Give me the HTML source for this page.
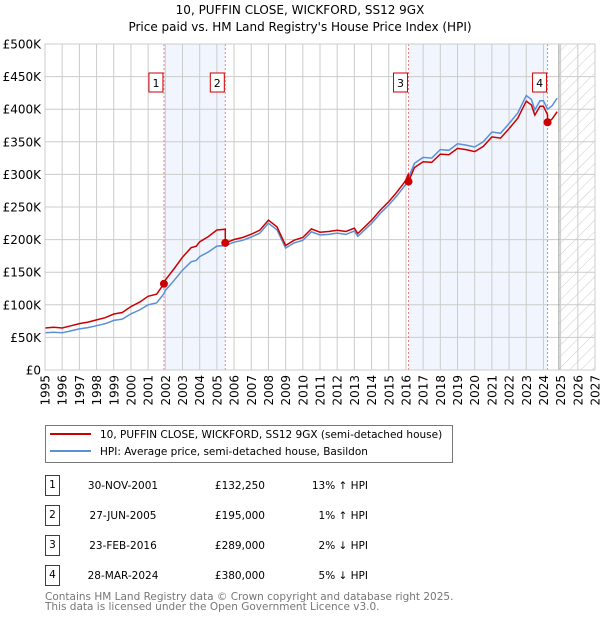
<!DOCTYPE html>
<html><head><meta charset="utf-8"><style>
body{margin:0;background:#fff;font-family:"DejaVu Sans","Liberation Sans",sans-serif;}
svg{display:block}
</style></head><body>
<svg width="600" height="620" xmlns="http://www.w3.org/2000/svg" font-family="DejaVu Sans, Liberation Sans, sans-serif">
<g id="g"></g>
</svg>
<script>
const hpiYears=[1995,1995.5,1996,1996.5,1997,1997.5,1998,1998.5,1999,1999.5,2000,2000.5,2001,2001.5,2001.92,2002,2002.5,2003,2003.5,2003.8,2004,2004.5,2005,2005.49,2006,2006.5,2007,2007.5,2008,2008.5,2009,2009.5,2010,2010.5,2011,2011.5,2012,2012.5,2013,2013.2,2013.6,2014,2014.5,2015,2015.5,2016,2016.15,2016.5,2017,2017.5,2018,2018.5,2019,2019.5,2020,2020.5,2021,2021.5,2022,2022.5,2023,2023.3,2023.5,2023.8,2024,2024.24,2024.5,2024.8];
const hpiValues=[57,58,57,60,63,65,68,71,76,78,86,92,100,103,117,122,137,153,166,168,174,181,190,191,196,199,204,210,225,215,187,195,199,212,207,208,210,208,213,205,215,225,240,253,268,285,295,317,326,325,338,337,347,345,342,350,365,363,378,394,421,415,399,413,413,400,405,417];
const saleDates=[2001.92,2005.49,2016.15,2024.24];
const salePrices=[132250,195000,289000,380000];
const saleLabels=["1","2","3","4"];
const yTicks=[0,50,100,150,200,250,300,350,400,450,500];
const yTickLabels=["£0","£50K","£100K","£150K","£200K","£250K","£300K","£350K","£400K","£450K","£500K"];
const xTicks=[1995,1996,1997,1998,1999,2000,2001,2002,2003,2004,2005,2006,2007,2008,2009,2010,2011,2012,2013,2014,2015,2016,2017,2018,2019,2020,2021,2022,2023,2024,2025,2026,2027];
const tableDates=["30-NOV-2001","27-JUN-2005","23-FEB-2016","28-MAR-2024"];
const tablePrices=["£132,250","£195,000","£289,000","£380,000"];
const tableDiffs=["13% ↑ HPI","1% ↑ HPI","2% ↓ HPI","5% ↓ HPI"];

const NS="http://www.w3.org/2000/svg";
const g=document.getElementById('g');
const L=45,R=595,T=44,B=370,X0=1995,X1=2027,YMAX=500,DATA_END=2024.9;
const xs=v=>L+(v-X0)/(X1-X0)*(R-L);
const ys=v=>B-v/YMAX*(B-T);
function el(tag,attrs,parent){const e=document.createElementNS(NS,tag);for(const k in attrs)e.setAttribute(k,attrs[k]);(parent||g).appendChild(e);return e;}
function hpiAt(t){for(let i=0;i<hpiYears.length-1;i++){if(t>=hpiYears[i]&&t<=hpiYears[i+1]){const f=(t-hpiYears[i])/(hpiYears[i+1]-hpiYears[i]);return hpiValues[i]+f*(hpiValues[i+1]-hpiValues[i]);}}return hpiValues[hpiValues.length-1];}

const defs=el('defs',{});
const pat=el('pattern',{id:'hatch',width:8,height:8,patternUnits:'userSpaceOnUse',patternTransform:'rotate(45)'},defs);
el('line',{x1:0,y1:0,x2:0,y2:8,stroke:'#ccc','stroke-width':1},pat);

let t=el('text',{x:300,y:14,'text-anchor':'middle','font-size':12,fill:'#000'});t.textContent='10, PUFFIN CLOSE, WICKFORD, SS12 9GX';

t=el('text',{x:300,y:31,'text-anchor':'middle','font-size':12,fill:'#000'});t.textContent="Price paid vs. HM Land Registry's House Price Index (HPI)";


for(let i=0;i<saleDates.length;i+=2){
 const r=el('rect',{x:xs(saleDates[i]),y:T,width:xs(saleDates[i+1])-xs(saleDates[i]),height:B-T,fill:'#eef3fc',opacity:0.8});
 
}
let h=el('rect',{x:xs(DATA_END),y:T,width:R-xs(DATA_END),height:B-T,fill:'url(#hatch)'});


yTicks.forEach((v,i)=>{
 const ln=el('line',{x1:L,x2:R,y1:ys(v),y2:ys(v),stroke:'#ccc','stroke-width':1});
 
 const tx=el('text',{x:L-4,y:ys(v)+4.5,'text-anchor':'end','font-size':12,fill:'#000'});tx.textContent=yTickLabels[i];
 
});
xTicks.forEach(v=>{
 const ln=el('line',{x1:xs(v),x2:xs(v),y1:T,y2:B,stroke:'#ccc','stroke-width':1});
 
 const tx=el('text',{x:0,y:0,'text-anchor':'end','font-size':12,fill:'#000',transform:`translate(${xs(v)+4.5},${B+5}) rotate(-90)`});tx.textContent=v;
 
});
el('line',{x1:xs(DATA_END),x2:xs(DATA_END),y1:T,y2:B,stroke:'#999','stroke-width':1});

saleDates.forEach((d,i)=>{
 const ln=el('line',{x1:xs(d),x2:xs(d),y1:T,y2:B,stroke:'#f08080','stroke-width':1,'stroke-dasharray':'2,2'});
 
 const bx=el('rect',{x:xs(d)-15,y:73,width:14,height:19,fill:'#fff',stroke:'#c00','stroke-width':1});
 
 const tx=el('text',{x:xs(d)-8,y:87,'text-anchor':'middle','font-size':11,fill:'#000'});tx.textContent=saleLabels[i];
 
});

let dH='';hpiYears.forEach((y,i)=>{dH+=(i?'L':'M')+xs(y).toFixed(1)+','+ys(hpiValues[i]).toFixed(1);});
const hl=el('path',{d:dH,fill:'none',stroke:'#5b8fd6','stroke-width':1.5});


const factors=saleDates.map((d,i)=>salePrices[i]/1000/hpiAt(d));
let dR='';
const pts=[];
hpiYears.forEach((y,i)=>{let k=0;for(let j=0;j<saleDates.length;j++)if(y>=saleDates[j])k=j;
 pts.push([y,hpiValues[i]*factors[k]]);});
saleDates.forEach((d,j)=>{ if(j>0) pts.push([d-0.001,hpiAt(d)*factors[j-1]]); pts.push([d,salePrices[j]/1000]); });
pts.sort((a,b)=>a[0]-b[0]);
pts.forEach((p,i)=>{dR+=(i?'L':'M')+xs(p[0]).toFixed(1)+','+ys(p[1]).toFixed(1);});
const rl=el('path',{d:dR,fill:'none',stroke:'#cc0000','stroke-width':1.5});

saleDates.forEach((d,i)=>{
 const c=el('circle',{cx:xs(d),cy:ys(salePrices[i]/1000),r:4,fill:'#cc0000'});
 
});
el('rect',{x:L,y:T,width:R-L,height:B-T,fill:'none',stroke:'#ccc','stroke-width':1});

const lg=el('rect',{x:45.5,y:425.5,width:407,height:37,fill:'#fff',stroke:'#777','stroke-width':1});

el('line',{x1:50,x2:91,y1:434,y2:434,stroke:'#cc0000','stroke-width':2});
t=el('text',{x:100,y:438,'font-size':10.5,fill:'#000'});t.textContent='10, PUFFIN CLOSE, WICKFORD, SS12 9GX (semi-detached house)';

el('line',{x1:50,x2:91,y1:451,y2:451,stroke:'#5b8fd6','stroke-width':2});
t=el('text',{x:100,y:455,'font-size':10.5,fill:'#000'});t.textContent='HPI: Average price, semi-detached house, Basildon';


const rowY=[485,515,545,575];
rowY.forEach((y,i)=>{
 const b=el('rect',{x:45.5,y:y-9.5,width:14,height:20,fill:'#fff',stroke:'#c00','stroke-width':1});
 
 let tx=el('text',{x:52.5,y:y+3,'text-anchor':'middle','font-size':10.5});tx.textContent=saleLabels[i];
 
 tx=el('text',{x:123,y:y+4,'text-anchor':'middle','font-size':10.5});tx.textContent=tableDates[i];
 
 tx=el('text',{x:265,y:y+4,'text-anchor':'end','font-size':10.5});tx.textContent=tablePrices[i];
 
 tx=el('text',{x:368,y:y+4,'text-anchor':'end','font-size':10.5});tx.textContent=tableDiffs[i];
 
});
t=el('text',{x:45,y:600,'font-size':10.5,fill:'#777'});t.textContent='Contains HM Land Registry data © Crown copyright and database right 2025.';

t=el('text',{x:45,y:610,'font-size':10.5,fill:'#777'});t.textContent='This data is licensed under the Open Government Licence v3.0.';

</script>
</body></html>
